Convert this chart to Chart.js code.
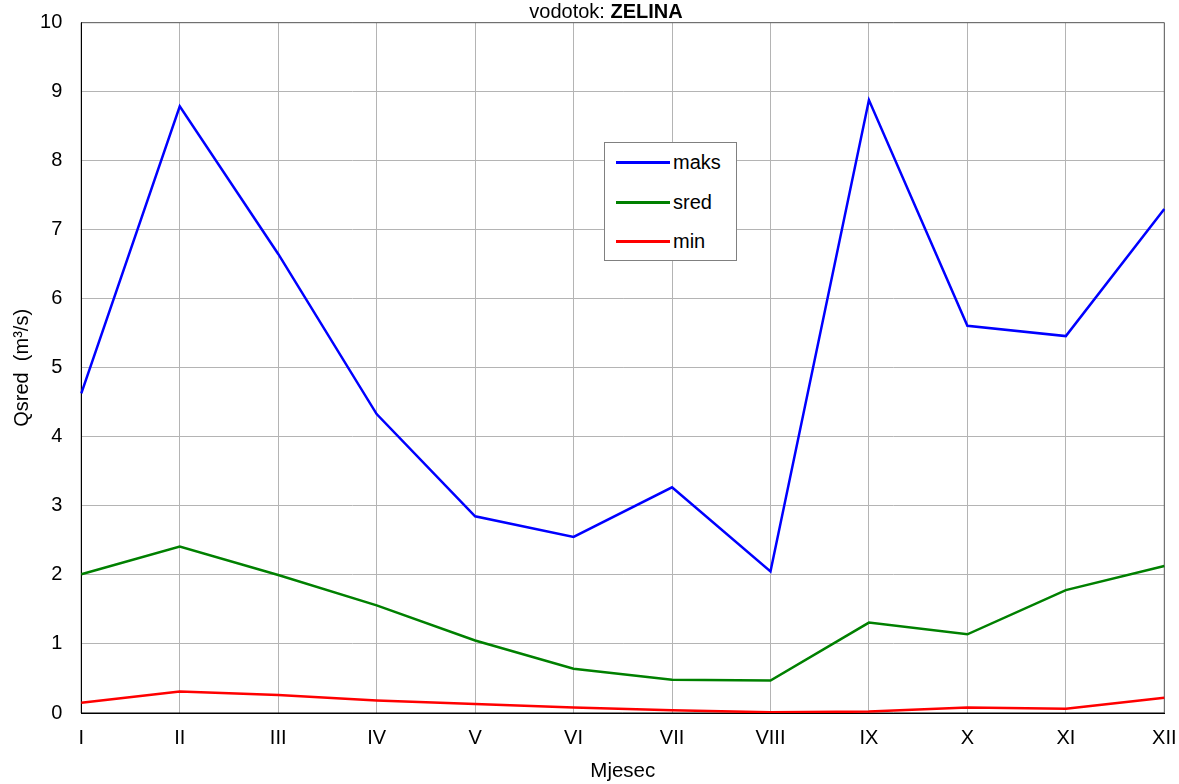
<!DOCTYPE html>
<html>
<head>
<meta charset="utf-8">
<script src="https://cdn.jsdelivr.net/npm/chart.js@4"></script>
<style>
  html, body { margin: 0; padding: 0; background: #fff; overflow: hidden; }
  #wrap { position: relative; width: 1179px; height: 784px; font-family: "Liberation Sans", Arial, sans-serif; overflow: hidden; }
  #title { position: absolute; top: 0.8px; left: 406px; width: 400px; text-align: center; font-size: 20px; line-height: 20px; color: #000; white-space: nowrap; }
  #legend { position: absolute; left: 604px; top: 142px; width: 131px; height: 117px; border: 1px solid #808080; background: #fff; }
  .li { position: absolute; left: 0; height: 20px; }
  .li .sw { position: absolute; left: 11px; width: 54px; height: 3px; top: 9px; }
  .li .tx { position: absolute; left: 68px; top: 0; font-size: 20px; line-height: 20px; color: #000; white-space: nowrap; }
</style>
</head>
<body>
<div id="wrap">
  <canvas id="c" width="1179" height="784"></canvas>
  <div id="title">vodotok: <b>ZELINA</b></div>
  <div id="legend"></div>
</div>
<script>
const months = ["I","II","III","IV","V","VI","VII","VIII","IX","X","XI","XII"];
const maks = [4.63, 8.79, 6.65, 4.33, 2.85, 2.55, 3.27, 2.05, 8.88, 5.61, 5.46, 7.30];
const sred = [2.01, 2.41, 2.00, 1.56, 1.05, 0.64, 0.48, 0.47, 1.31, 1.14, 1.78, 2.13];
const minv = [0.15, 0.31, 0.26, 0.18, 0.13, 0.08, 0.04, 0.01, 0.02, 0.08, 0.06, 0.22];
const seriesNames = ["maks", "sred", "min"];
const seriesColors = ["#0000ff", "#008000", "#ff0000"];
const yTicks = [0,1,2,3,4,5,6,7,8,9,10];

const values = [maks, sred, minv];
const legendEl = document.getElementById('legend');
seriesNames.forEach((n, i) => {
  const d = document.createElement('div');
  d.className = 'li';
  d.style.top = (9 + i * 39.5) + 'px';
  d.innerHTML = '<div class="sw" style="background:' + seriesColors[i] + '"></div><div class="tx">' + n + '</div>';
  legendEl.appendChild(d);
});

const frame = {
  id: 'frame',
  beforeDatasetsDraw(chart) {
    const a = chart.chartArea, ctx = chart.ctx;
    ctx.save();
    ctx.strokeStyle = '#606060';
    ctx.lineWidth = 1;
    ctx.beginPath();
    ctx.moveTo(a.left, a.top); ctx.lineTo(a.right, a.top); ctx.lineTo(a.right, a.bottom);
    ctx.stroke();
    ctx.strokeStyle = '#000';
    ctx.beginPath();
    ctx.moveTo(a.left, a.top); ctx.lineTo(a.left, a.bottom); ctx.lineTo(a.right, a.bottom);
    ctx.stroke();
    ctx.restore();
  }
};

Chart.defaults.font.family = '"Liberation Sans", Arial, sans-serif';
Chart.defaults.color = '#000';

new Chart(document.getElementById('c'), {
  type: 'line',
  data: {
    labels: months,
    datasets: values.map((v, i) => ({
      label: seriesNames[i],
      data: v,
      borderColor: seriesColors[i],
      backgroundColor: seriesColors[i],
      borderWidth: 2.5,
      pointRadius: 0,
      tension: 0,
      fill: false
    }))
  },
  options: {
    responsive: false,
    animation: false,
    layout: { padding: { top: 22.7, right: 14.7, left: 0, bottom: 0 } },
    plugins: { legend: { display: false }, title: { display: false }, tooltip: { enabled: false } },
    scales: {
      x: {
        type: 'category',
        offset: false,
        grid: { color: '#b4b4b4', lineWidth: 1, drawTicks: false, offset: false },
        border: { display: true, color: '#000', width: 1 },
        ticks: { font: { size: 20 }, padding: 13, maxRotation: 0, autoSkip: false },
        title: { display: true, text: 'Mjesec', font: { size: 20.5 }, padding: { top: 6, bottom: 0 } },
        afterFit(s) { s.height = 71; s.paddingLeft = 0; s.paddingRight = 0; }
      },
      y: {
        min: 0, max: 10,
        afterBuildTicks(s) { s.ticks = yTicks.map(v => ({ value: v })); },
        grid: { color: '#b4b4b4', lineWidth: 1, drawTicks: false },
        border: { display: true, color: '#000', width: 1 },
        ticks: { font: { size: 20 }, padding: 19 },
        title: { display: true, text: 'Qsred  (m³/s)', font: { size: 20 }, padding: { top: 10, bottom: 0 } },
        afterFit(s) { s.width = 81.3; s.paddingTop = 0; s.paddingBottom = 0; }
      }
    }
  },
  plugins: [frame]
});
</script>
</body>
</html>
